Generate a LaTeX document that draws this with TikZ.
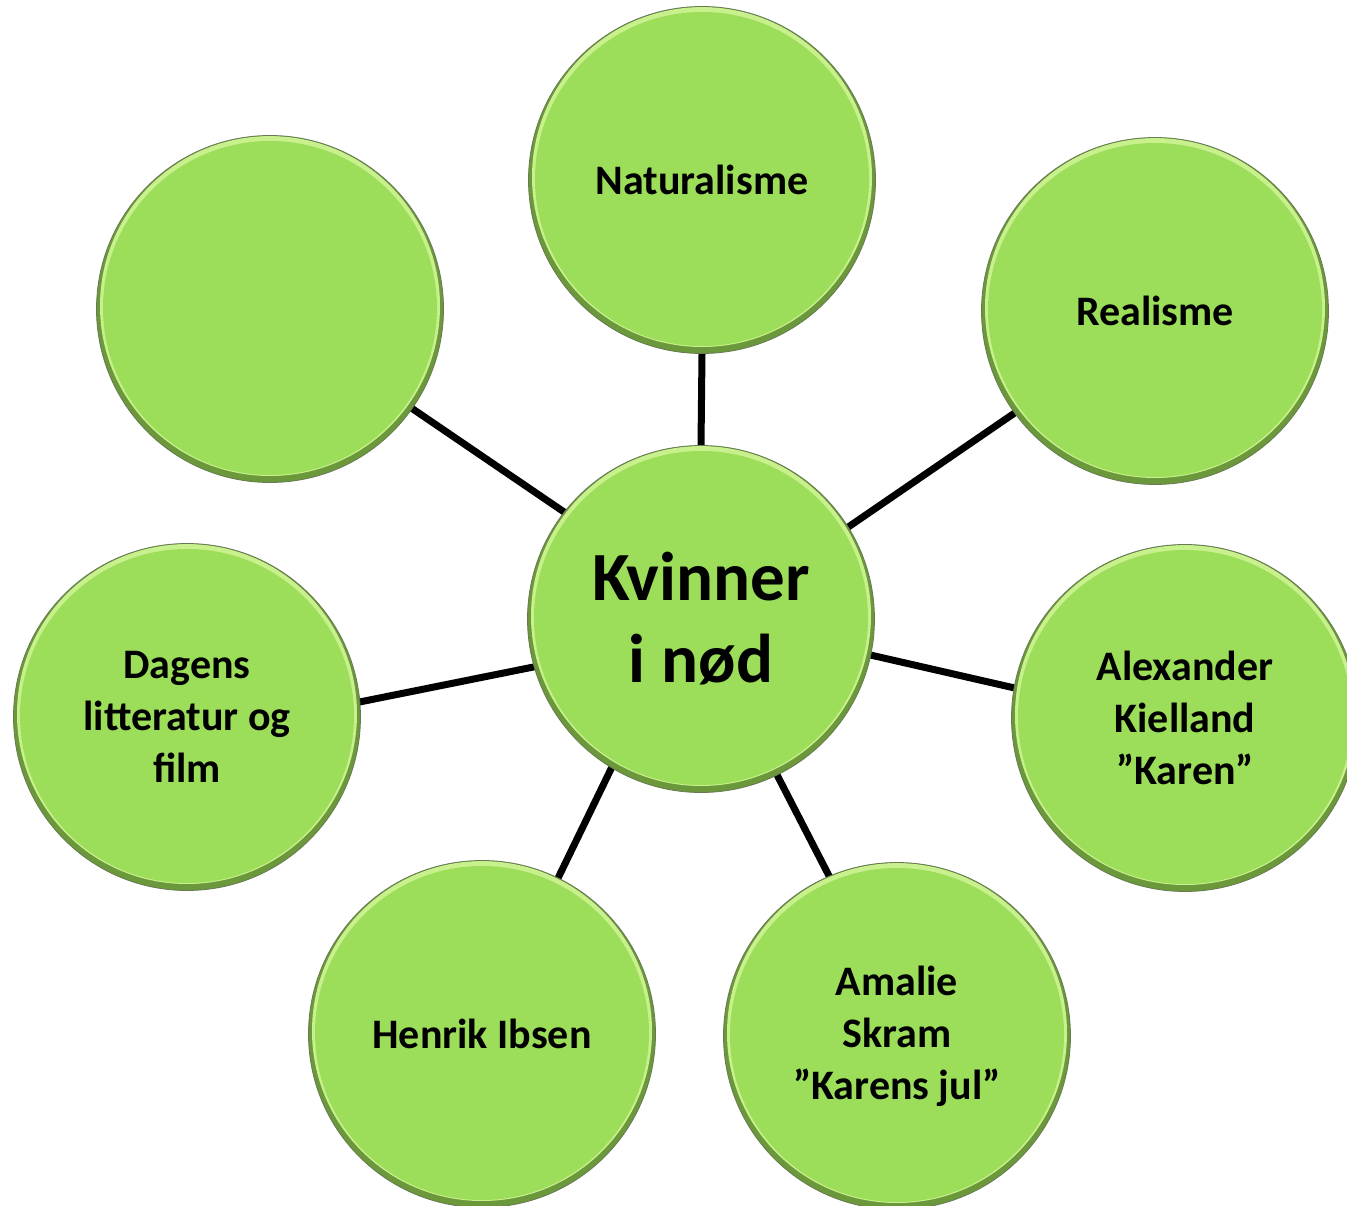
\documentclass[tikz,border=0pt]{standalone}
\usepackage{fontspec}
\setmainfont{Carlito}
\usetikzlibrary{backgrounds}
\definecolor{leaf}{RGB}{156,221,90}
\definecolor{leaflight}{RGB}{200,240,140}
\definecolor{leafdark}{RGB}{106,152,58}
\definecolor{rim}{RGB}{104,122,84}
\begin{document}
\begin{tikzpicture}
% 1 unit = 1 px of the 1347x1206 sheet, y runs down
[x=1pt, y=-1pt,
 bubble/.style={circle, minimum size=347pt, inner sep=0pt, draw=rim, line width=0.8pt,
  align=center, font=\bfseries\fontsize{42}{52}\selectfont,
  path picture={
   % 174 = outer radius, rings give the bevel
   \fill[leafdark] (path picture bounding box.center) circle (174);
   \fill[leaflight] ([yshift=3pt]path picture bounding box.center) circle (170);
   \fill[leaf] ([yshift=1pt]path picture bounding box.center) circle (167);
  }},
 spoke/.style={line width=7pt, shorten <=-8pt, shorten >=-8pt}]
\path[use as bounding box, clip] (0,0) rectangle (1347,1206);
\node[bubble, font=\bfseries\fontsize{69}{82}\selectfont] (hub) at (701,619) {Kvinner\\i nød};
\node[bubble] (natur) at (702,180) {Naturalisme};
\node[bubble] (real) at (1155,311) {Realisme};
\node[bubble] (blank) at (270,309) {};
\node[bubble] (dagens) at (187,717) {Dagens\\litteratur og\\film};
\node[bubble] (kielland) at (1185,718) {Alexander\\Kielland\\”Karen”};
\node[bubble] (ibsen) at (482,1034) {Henrik Ibsen};
\node[bubble] (skram) at (897,1036) {Amalie\\Skram\\”Karens jul”};
\begin{pgfonlayer}{background}
% anchors = where each spoke meets the rims
\foreach \sat/\a/\b in {natur/90/270, real/32.7/216, blank/142.2/325.7, dagens/196.3/5.6,
  kielland/348.2/170, ibsen/239.8/64, skram/296.7/113.2}{
	\draw[spoke] (hub.\a) -- (\sat.\b);
	}
\end{pgfonlayer}
\end{tikzpicture}
\end{document}
